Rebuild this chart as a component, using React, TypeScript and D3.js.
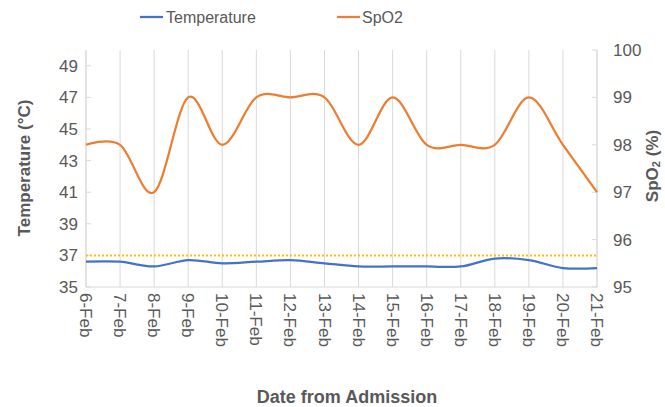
import React from "react";
import * as d3 from "d3";

// chart values
const dates = ["6-Feb","7-Feb","8-Feb","9-Feb","10-Feb","11-Feb","12-Feb","13-Feb","14-Feb","15-Feb","16-Feb","17-Feb","18-Feb","19-Feb","20-Feb","21-Feb"];
const temperature = [36.6,36.6,36.3,36.7,36.5,36.6,36.7,36.5,36.3,36.3,36.3,36.3,36.8,36.7,36.2,36.2];
const spo2 = [98,98,97,99,98,99,99,99,98,99,98,98,98,99,98,97];
const feverLine = 37;
const tempTicks = [35,37,39,41,43,45,47,49];
const spo2Ticks = [95,96,97,98,99,100];

const W = 665;
const H = 407;
const margin = { top: 50, right: 68, bottom: 120, left: 86 };
const gray = "#595959";
const grid = "#D9D9D9";
const narrow = "'Liberation Sans Narrow', 'Liberation Sans', Arial, sans-serif";
const bold = "'Liberation Sans', Arial, sans-serif";

export default function App() {
  const x = d3
    .scalePoint<string>()
    .domain(dates)
    .range([margin.left, W - margin.right]);
  const yT = d3.scaleLinear().domain([35, 50]).range([H - margin.bottom, margin.top]);
  const yS = d3.scaleLinear().domain([95, 100]).range([H - margin.bottom, margin.top]);

  const curve = d3.curveCardinal.tension(0);
  const tempLine = d3
    .line<number>()
    .x((d, i) => x(dates[i]) as number)
    .y((d) => yT(d))
    .curve(curve);
  const spo2Line = d3
    .line<number>()
    .x((d, i) => x(dates[i]) as number)
    .y((d) => yS(d))
    .curve(curve);

  const x0 = margin.left;
  const x1 = W - margin.right;
  const yBottom = H - margin.bottom;
  const yTop = margin.top;

  return (
    <svg width={W} height={H} style={{ position: "absolute", left: 0, top: 0 }}>
      <rect width={W} height={H} fill="#fff" />
      {/* vertical gridlines */}
      {dates.map((d) => (
        <line key={d} x1={x(d)} x2={x(d)} y1={yTop} y2={yBottom} stroke={grid} strokeWidth={1} />
      ))}
      {/* axes */}
      <line x1={x0} x2={x1} y1={yBottom} y2={yBottom} stroke={grid} />
      <line x1={x0} x2={x0} y1={yTop} y2={yBottom} stroke={grid} />
      <line x1={x1} x2={x1} y1={yTop} y2={yBottom} stroke={grid} />
      {tempTicks.map((t) => (
        <g key={t}>
          <line x1={x0} x2={x0 + 5} y1={yT(t)} y2={yT(t)} stroke={grid} />
          <text x={x0 - 8} y={yT(t)} dy="0.35em" textAnchor="end" fontSize={17} fill={gray} fontFamily={narrow}>
            {t}
          </text>
        </g>
      ))}
      {spo2Ticks.map((t) => (
        <g key={t}>
          <line x1={x1 - 5} x2={x1} y1={yS(t)} y2={yS(t)} stroke={grid} />
          <text x={x1 + 16} y={yS(t)} dy="0.35em" textAnchor="start" fontSize={17} fill={gray} fontFamily={narrow}>
            {t}
          </text>
        </g>
      ))}
      {dates.map((d) => (
        <text
          key={d}
          transform={`translate(${x(d)},${yBottom + 6}) rotate(90)`}
          dy="0.35em"
          textAnchor="start"
          fontSize={17}
          fill={gray}
          fontFamily={narrow}
        >
          {d}
        </text>
      ))}
      {/* 37 °C reference */}
      <line x1={x0} x2={x1} y1={yT(feverLine)} y2={yT(feverLine)} stroke="#FFC000" strokeWidth={2} strokeDasharray="2 2" />
      <path d={tempLine(temperature) || ""} fill="none" stroke="#4472C4" strokeWidth={2.25} />
      <path d={spo2Line(spo2) || ""} fill="none" stroke="#ED7D31" strokeWidth={2.25} />
      {/* legend */}
      <line x1={140} x2={163} y1={17} y2={17} stroke="#4472C4" strokeWidth={2.25} />
      <text x={166} y={17} dy="0.35em" fontSize={16} fill={gray} fontFamily={narrow}>Temperature</text>
      <line x1={337} x2={360} y1={17} y2={17} stroke="#ED7D31" strokeWidth={2.25} />
      <text x={362} y={17} dy="0.35em" fontSize={16} fill={gray} fontFamily={narrow}>SpO2</text>
      {/* axis titles */}
      <text
        transform={`translate(24,168) rotate(-90)`}
        textAnchor="middle"
        dominantBaseline="central"
        fontSize={17}
        fontWeight="bold"
        fill={gray}
        fontFamily={bold}
      >
        Temperature (°C)
      </text>
      <text
        transform={`translate(652,166) rotate(-90)`}
        textAnchor="middle"
        dominantBaseline="central"
        fontSize={17}
        fontWeight="bold"
        fill={gray}
        fontFamily={bold}
      >
        SpO<tspan fontSize={11} dy="4">2</tspan><tspan dy="-4"> (%)</tspan>
      </text>
      <text x={347} y={403} textAnchor="middle" fontSize={18} fontWeight="bold" fill={gray} fontFamily={bold}>
        Date from Admission
      </text>
    </svg>
  );
}
